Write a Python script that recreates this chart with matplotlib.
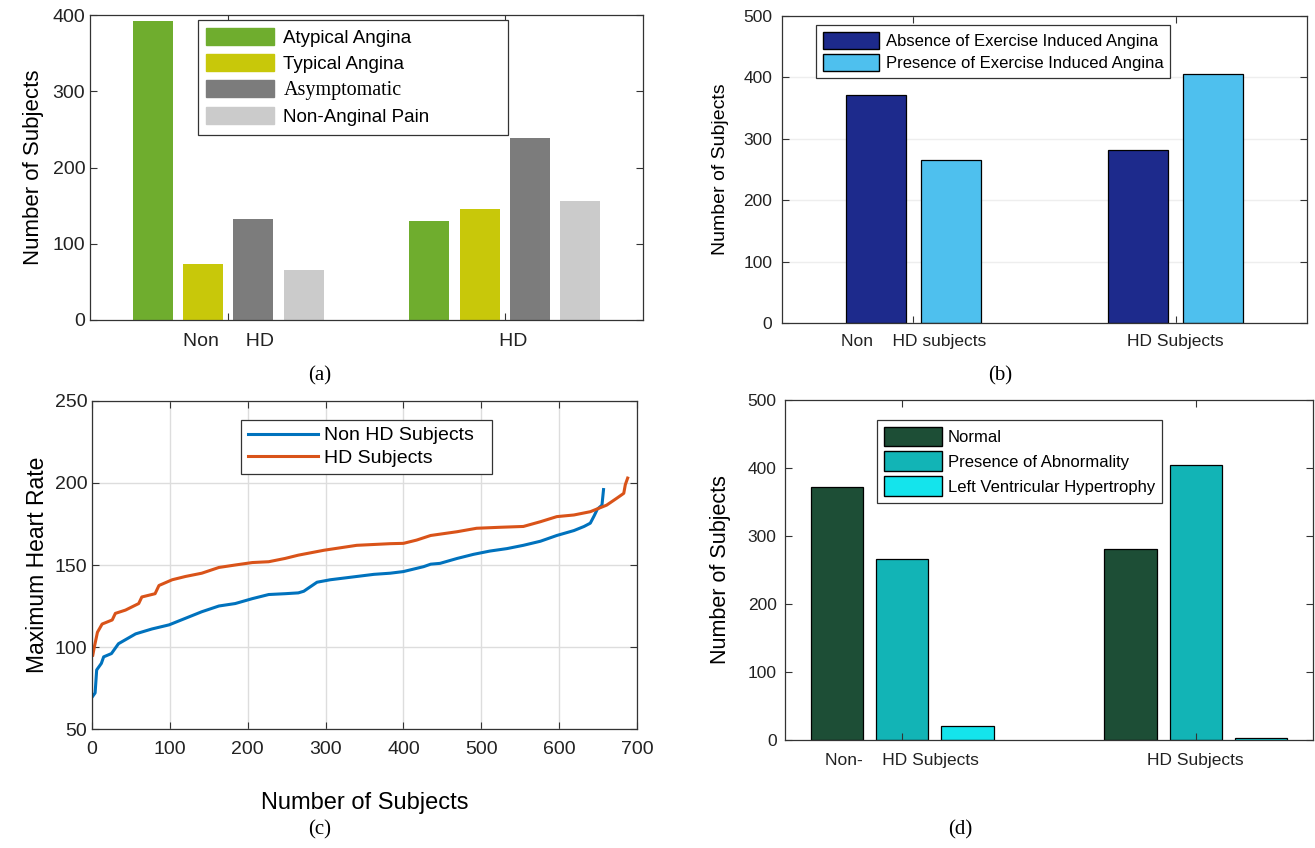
import numpy as np
import matplotlib
matplotlib.use("Agg")
import matplotlib.pyplot as plt

plt.rcParams['font.family'] = ['Liberation Sans', 'DejaVu Sans']

# (a) chest pain type
groups_a = ['Non     HD', '   HD']
cp_labels = ['Atypical Angina', 'Typical Angina', 'Asymptomatic', 'Non-Anginal Pain']
atypical = [392, 130]
typical = [74, 145]
asymptomatic = [132, 239]
non_anginal = [66, 156]

# (b) exercise induced angina
groups_b = ['Non    HD subjects', 'HD Subjects']
exang_labels = ['Absence of Exercise Induced Angina', 'Presence of Exercise Induced Angina']
exang_absent = [372, 282]
exang_present = [266, 405]

# (c) sorted maximum heart rate
non_hd_idx = [1, 4, 6, 12, 15, 25, 34, 45, 56, 77, 99, 120, 141, 163, 184, 206, 227, 248,
              265, 272, 289, 306, 340, 362, 383, 400, 426, 435, 447, 469, 490, 511, 533,
              554, 576, 597, 619, 632, 640, 645, 649, 655, 657]
non_hd_rate = [70, 72, 86, 90, 94, 96, 102, 105, 108, 111, 113.5, 117.5, 121.5, 125, 126.5,
               129.5, 132, 132.5, 133, 134, 139.5, 141, 143, 144.3, 145, 146, 149, 150.5,
               151, 154, 156.5, 158.5, 160, 162, 164.5, 168, 171, 173.5, 175.5, 180, 184,
               186.5, 196]
hd_idx = [1, 3, 7, 13, 26, 30, 43, 60, 64, 81, 86, 103, 120, 141, 163, 184, 206, 227, 248,
          265, 298, 340, 383, 400, 417, 435, 469, 494, 524, 554, 576, 597, 619, 640, 661,
          674, 683, 685, 688]
hd_rate = [95, 100, 109, 114, 116.5, 120.5, 122.5, 126.5, 130.5, 132.5, 137.5, 141, 143, 145,
           148.5, 150, 151.5, 152, 154, 156, 159, 162, 163, 163.2, 165.2, 168, 170.3, 172.4,
           173, 173.5, 176.4, 179.5, 180.5, 182.5, 186.5, 190.7, 193.7, 199, 203]

# (d) resting ECG
groups_d = ['Non-    HD Subjects', 'HD Subjects']
ecg_labels = ['Normal', 'Presence of Abnormality', 'Left Ventricular Hypertrophy']
ecg_normal = [372, 281]
ecg_abnormal = [266, 404]
ecg_lvh = [20, 3]

W, H = 1315, 848
fig = plt.figure(figsize=(W / 100, H / 100), dpi=100)


def px_axes(l, t, r, b):
    return fig.add_axes([l / W, 1 - b / H, (r - l) / W, (b - t) / H])


def style(ax, fs):
    for s in ax.spines.values():
        s.set_color('#333333')
        s.set_linewidth(0.9)
    ax.tick_params(direction='in', length=5, top=True, right=True, labelsize=fs,
                   color='#333333', labelcolor='#222222')


def grouped(ax, series, colors, edge, lw):
    n = len(series)
    gw = min(0.8, n / (n + 1.5))
    step = gw / n
    x = np.arange(1, 3)
    for i, (vals, c) in enumerate(zip(series, colors)):
        off = (i - (n - 1) / 2) * step
        ax.bar(x + off, vals, width=step * 0.8, color=c, edgecolor=edge, linewidth=lw)
    ax.set_xticks(x)


def legend_box(ax, handles, labels, l, t, fs, width=None, **kw):
    if width is None:
        anchor = (l / W, 1 - t / H)
    else:
        # fixed-width box, entries stay on the left
        anchor = (l / W, 1 - t / H, width / W, 0)
        kw['mode'] = 'expand'
    leg = ax.legend(handles, labels, loc='upper left', bbox_to_anchor=anchor,
                    bbox_transform=fig.transFigure, fontsize=fs, fancybox=False,
                    framealpha=1, edgecolor='#333333', borderaxespad=0, **kw)
    leg.get_frame().set_linewidth(0.9)
    return leg


# ---- (a)
ax = px_axes(90, 15, 643, 320)
cols_a = ['#6FAD2E', '#C8C80A', '#7C7C7C', '#CBCBCB']
grouped(ax, [atypical, typical, asymptomatic, non_anginal], cols_a, 'none', 0)
ax.set_xlim(0.5, 2.5)
ax.set_ylim(0, 400)
ax.set_yticks([0, 100, 200, 300, 400])
ax.set_xticklabels(groups_a)
ax.tick_params(axis='x', pad=9)
style(ax, 14)
ax.set_ylabel('Number of Subjects', fontsize=16, labelpad=6)
hs = [plt.Rectangle((0, 0), 1, 1, color=c) for c in cols_a]
leg = legend_box(ax, hs, cp_labels, 198, 20, 13.5, width=310, handlelength=3.6,
                 handleheight=1.0, labelspacing=0.38, borderpad=0.45, handletextpad=0.5)
leg.get_texts()[2].set_family(['Liberation Serif', 'DejaVu Serif'])
leg.get_texts()[2].set_fontsize(14.5)

# ---- (b)
ax = px_axes(782, 16, 1307, 323)
cols_b = ['#1D2A8C', '#4EC0EE']
grouped(ax, [exang_absent, exang_present], cols_b, 'black', 0.9)
ax.set_xlim(0.5, 2.5)
ax.set_ylim(0, 500)
ax.set_yticks(range(0, 501, 100))
ax.yaxis.grid(True, color='#EEEEEE', linewidth=1)
ax.set_axisbelow(True)
ax.set_xticklabels(groups_b)
ax.tick_params(axis='x', pad=8)
style(ax, 12.5)
ax.tick_params(axis='y', pad=7)
ax.set_ylabel('Number of Subjects', fontsize=14, labelpad=10)
hs = [plt.Rectangle((0, 0), 1, 1, facecolor=c, edgecolor='black') for c in cols_b]
legend_box(ax, hs, exang_labels, 816, 25, 12, handlelength=3.4, handleheight=1.2,
           labelspacing=0.3, borderpad=0.4, handletextpad=0.4)

# ---- (c)
ax = px_axes(92, 401, 637, 729)
l1, = ax.plot(non_hd_idx, non_hd_rate, color='#0072BD', lw=2.2)
l2, = ax.plot(hd_idx, hd_rate, color='#D95319', lw=2.2)
ax.set_xlim(0, 700)
ax.set_ylim(50, 250)
ax.set_xticks(range(0, 701, 100))
ax.set_yticks(range(50, 251, 50))
ax.grid(True, color='#DDDDDD', linewidth=1)
ax.set_axisbelow(True)
style(ax, 14)
ax.tick_params(axis='x', pad=9)
ax.set_xlabel('Number of Subjects', fontsize=17, labelpad=24)
ax.set_ylabel('Maximum Heart Rate', fontsize=16.5, labelpad=4)
legend_box(ax, [l1, l2], ['Non HD Subjects', 'HD Subjects'], 241, 420, 14, width=251,
           handlelength=3.6, labelspacing=0.25, borderpad=0.35, handletextpad=0.3)

# ---- (d)
ax = px_axes(785, 400, 1313, 740)
cols_d = ['#1D4E36', '#12B4B6', '#14E4EC']
grouped(ax, [ecg_normal, ecg_abnormal, ecg_lvh], cols_d, 'black', 0.9)
ax.set_xlim(0.6, 2.4)
ax.set_ylim(0, 500)
ax.set_yticks(range(0, 501, 100))
ax.set_xticklabels(groups_d)
ax.tick_params(axis='x', pad=9)
style(ax, 12.5)
ax.tick_params(axis='y', pad=6)
ax.set_ylabel('Number of Subjects', fontsize=15.5, labelpad=12)
hs = [plt.Rectangle((0, 0), 1, 1, facecolor=c, edgecolor='black') for c in cols_d]
legend_box(ax, hs, ecg_labels, 877, 420, 12, handlelength=3.5, handleheight=1.45,
           labelspacing=0.3, borderpad=0.4, handletextpad=0.35)

# captions
for txt, x, y in [('(a)', 320, 376), ('(b)', 1000, 376), ('(c)', 320, 830), ('(d)', 960, 830)]:
    fig.text(x / W, 1 - y / H, txt, ha='center', va='center', fontsize=15,
             family=['Liberation Serif', 'DejaVu Serif'])

fig.savefig('out.png', dpi=100)
